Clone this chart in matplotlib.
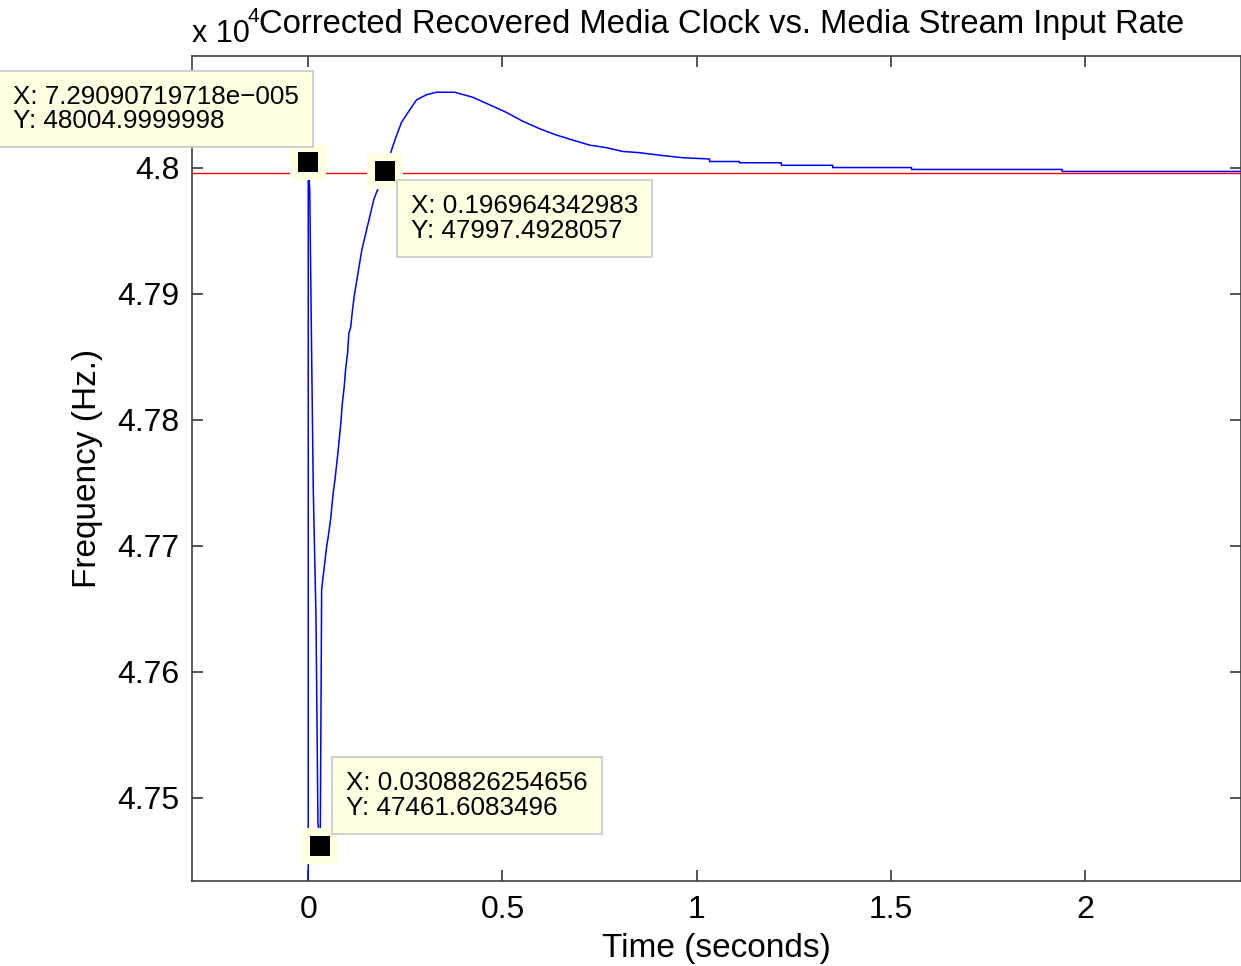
import matplotlib
matplotlib.use("Agg")
import matplotlib.pyplot as plt
from matplotlib.ticker import FuncFormatter

plt.rcParams['font.family'] = ['Liberation Sans', 'DejaVu Sans']

# blue trace: recovered media clock (Hz) vs time (seconds)
time_s = [0.0, 0.0000729, 0.004, 0.0075, 0.013, 0.020, 0.025, 0.0309,
          0.0345, 0.0473, 0.0514, 0.0576, 0.0643, 0.0687, 0.0772, 0.0841,
          0.0874, 0.0926, 0.0962, 0.1013, 0.1047, 0.1091, 0.1132, 0.1183,
          0.1381, 0.169, 0.197, 0.2145, 0.223, 0.240, 0.257, 0.279, 0.3045,
          0.330, 0.377, 0.4236, 0.467, 0.510, 0.552, 0.596, 0.639, 0.681,
          0.7245, 0.7675, 0.809, 0.853, 0.9045, 0.964, 1.033,
          1.033, 1.110, 1.110, 1.218, 1.218, 1.350, 1.350, 1.553, 1.553,
          1.941, 1.941, 2.4]
freq_hz = [47000, 48005.0, 47981, 47885, 47744, 47643, 47480, 47461.6,
           47665, 47699, 47707, 47721, 47742, 47752, 47776, 47798,
           47812, 47826, 47840, 47853, 47869, 47873, 47885, 47898,
           47935, 47975, 47997.5, 48014, 48022, 48036, 48044, 48054, 48058,
           48060, 48060, 48056, 48050, 48044, 48037, 48031, 48026, 48022,
           48018, 48016, 48013, 48012, 48010, 48008, 48007,
           48005, 48005, 48004, 48004, 48002, 48002, 48000.2, 48000.2, 47998.7,
           47998.7, 47997.1, 47997.1]

input_time = [-0.3, 2.4]
input_rate = [47996, 47996]

# data cursors
cursor_x = [7.29090719718e-005, 0.196964342983, 0.0308826254656]
cursor_y = [48004.9999998, 47997.4928057, 47461.6083496]
cursor_txt = ['X: 7.29090719718e\u2212005\nY: 48004.9999998',
              'X: 0.196964342983\nY: 47997.4928057',
              'X: 0.0308826254656\nY: 47461.6083496']
cursor_off = [(-295, 77), (26, -23), (26, 75)]

yticks = [47500, 47600, 47700, 47800, 47900, 48000]
xticks = [0, 0.5, 1, 1.5, 2]

W, H = 1241, 966
fig = plt.figure(figsize=(W / 100, H / 100), dpi=100)
ax = fig.add_axes([191.7 / W, 1 - 880.7 / H, (1240.5 - 191.7) / W, (880.7 - 55.7) / H])

ax.plot(input_time, input_rate, color='red', lw=1.0)
ax.plot(time_s, freq_hz, color='blue', lw=1.1)

ax.set_xlim(-0.3, 2.4)
ax.set_ylim(47434, 48089)
ax.set_xticks(xticks)
ax.set_yticks(yticks)
ax.xaxis.set_major_formatter(FuncFormatter(lambda v, p: f"{v:g}"))
ax.yaxis.set_major_formatter(FuncFormatter(lambda v, p: f"{v / 1e4:g}"))
ax.tick_params(direction='in', length=8, width=1.1, labelsize=23,
               top=True, right=True, color='#262626')
ax.tick_params(axis='x', pad=10)
ax.tick_params(axis='y', pad=9)
for s in ax.spines.values():
    s.set_linewidth(1.2)
    s.set_color('#404040')

ax.set_xlabel('Time (seconds)', fontsize=24, labelpad=6)
ax.set_ylabel('Frequency (Hz.)', fontsize=24, labelpad=10)

for x, y, txt, off in zip(cursor_x, cursor_y, cursor_txt, cursor_off):
    ax.plot([x], [y], marker='s', ms=20, mfc='black', mec='#ffffe1',
            mew=5.8, clip_on=False, zorder=5)
    ax.annotate(txt, xy=(x, y), xytext=off, textcoords='offset pixels',
                ha='left', va='top', fontsize=18.7, linespacing=1.05,
                bbox=dict(boxstyle='square,pad=0.53', fc='#ffffe1',
                          ec='#c8c8c8', lw=1.2), zorder=6)

fig.text(722 / W, 1 - 33 / H, 'Corrected Recovered Media Clock vs. Media Stream Input Rate',
         ha='center', va='baseline', fontsize=23.6)
fig.text(192 / W, 1 - 42 / H, 'x 10', ha='left', va='baseline', fontsize=22)
fig.text(247 / W, 1 - 22 / H, '4', ha='left', va='baseline', fontsize=15)

fig.savefig('out.png', dpi=100)
